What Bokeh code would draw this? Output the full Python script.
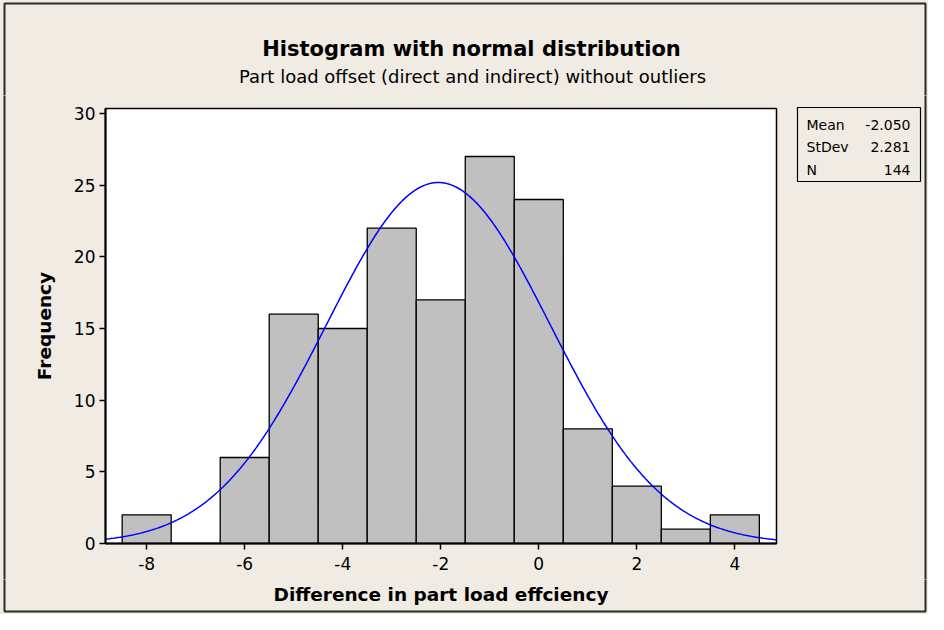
import numpy as np
from bokeh.plotting import figure
from bokeh.layouts import column, row
from bokeh.models import Label, BoxAnnotation, Range1d, FixedTicker
from bokeh.embed import file_html
from bokeh.resources import INLINE

# ---- data ----
bin_centers = [-8, -7, -6, -5, -4, -3, -2, -1, 0, 1, 2, 3, 4]
counts = [2, 0, 6, 16, 15, 22, 17, 27, 24, 8, 4, 1, 2]
bin_width = 1.0
mean = -2.050
stdev = 2.281
n_obs = 144
x_ticks = [-8, -6, -4, -2, 0, 2, 4]
y_ticks = [0, 5, 10, 15, 20, 25, 30]
title_text = "Histogram with normal distribution"
subtitle_text = "Part load offset (direct and indirect) without outliers"
x_label = "Difference in part load effciency"
y_label = "Frequency"
stat_names = ["Mean", "StDev", "N"]
stat_values = ["-2.050", "2.281", "144"]

FONT = "DejaVu Sans"
BG = "#F0ECE3"
EDGE = "#2a2a2a"

# page geometry (px) -- whole layout fits 928x614
PW, PH = 928, 614
TOP_H = 95             # title strip height
LEFT_W = 6             # left strip width
MAIN_W = 790 - LEFT_W
FL, FR, FT, FB = 105, 776, 108, 543   # plot frame
MID_BOTTOM = 579                      # bottom of main figure
MID_H = MID_BOTTOM - TOP_H
BOT_H = PH - MID_BOTTOM
BL, BR, BT, BB = 4, PW - 3, 3, PH - 3  # outer border

X0, X1 = -8.84, 4.85
Y0, Y1 = 0.0, 30.35


def no_align(f):
    try:
        f.frame_align = False
    except Exception:
        pass


def deco_fig(w, h, x0, x1, y0, y1):
    f = figure(width=w, height=h, x_range=Range1d(x0, x1), y_range=Range1d(y1, y0),
               x_axis_type=None, y_axis_type=None, output_backend="svg",
               toolbar_location=None, min_border=0)
    f.background_fill_color = BG
    f.border_fill_color = BG
    f.outline_line_color = None
    f.xgrid.visible = False
    f.ygrid.visible = False
    no_align(f)
    return f


def frame_box(**kw):
    return BoxAnnotation(fill_color=None, fill_alpha=0, line_color=EDGE, line_alpha=1.0,
                         line_width=2, **kw)


# ---- title strip ----
top = deco_fig(PW, TOP_H, 0, PW, 0, TOP_H)
top.add_layout(frame_box(left=BL, right=BR, top=BT, bottom=TOP_H + 50))
top.add_layout(Label(x=471, y=48, text=title_text, text_font=FONT,
                     text_font_size="21px", text_font_style="bold", text_align="center",
                     text_baseline="middle", text_color="black"))
top.add_layout(Label(x=472, y=76, text=subtitle_text, text_font=FONT,
                     text_font_size="18px", text_align="center",
                     text_baseline="middle", text_color="black"))

# ---- left strip ----
lstrip = deco_fig(LEFT_W, MID_H, 0, LEFT_W, TOP_H, MID_BOTTOM)
lstrip.add_layout(frame_box(left=BL, right=BL + 50, top=TOP_H - 50, bottom=MID_BOTTOM + 50))

# ---- main histogram ----
p = figure(width=MAIN_W, height=MID_H, x_range=Range1d(X0, X1), y_range=Range1d(Y0, Y1),
           output_backend="svg", toolbar_location=None,
           min_border_left=FL - LEFT_W, min_border_right=LEFT_W + MAIN_W - FR,
           min_border_top=FT - TOP_H, min_border_bottom=MID_BOTTOM - FB)
no_align(p)
p.frame_width = FR - FL
p.frame_height = FB - FT
p.background_fill_color = "white"
p.border_fill_color = BG
p.outline_line_color = "black"
p.outline_line_width = 1.5
p.xgrid.visible = False
p.ygrid.visible = False

for ax in (p.xaxis[0], p.yaxis[0]):
    ax.axis_line_color = "black"
    ax.axis_line_width = 2
    ax.major_tick_line_color = "black"
    ax.major_tick_line_width = 1.5
    ax.major_tick_out = 6
    ax.major_tick_in = 0
    ax.minor_tick_line_color = None
    ax.major_label_text_font = FONT
    ax.major_label_text_font_size = "17px"
    ax.major_label_text_color = "black"
    ax.axis_label_text_font = FONT
    ax.axis_label_text_font_size = "18.5px"
    ax.axis_label_text_font_style = "bold"
    ax.axis_label_text_color = "black"

p.xaxis.ticker = FixedTicker(ticks=x_ticks)
p.yaxis.ticker = FixedTicker(ticks=y_ticks)
p.xaxis.major_label_overrides = {t: str(t) for t in x_ticks}
p.yaxis.major_label_overrides = {t: str(t) for t in y_ticks}
p.yaxis.axis_label = y_label
p.xaxis.major_label_standoff = 7
p.yaxis.major_label_standoff = 4
p.yaxis.axis_label_standoff = 16

left = [c - bin_width / 2 for c in bin_centers]
right = [c + bin_width / 2 for c in bin_centers]
p.quad(left=left, right=right, bottom=0, top=counts,
       fill_color="#C0C0C0", line_color="black", line_width=1.3)

xs = np.linspace(X0, X1, 500)
ys = n_obs * bin_width * np.exp(-0.5 * ((xs - mean) / stdev) ** 2) / (stdev * np.sqrt(2 * np.pi))
p.line(xs, ys, line_color="#0000FF", line_width=1.5)

# ---- stats box (right strip) ----
SX0 = LEFT_W + MAIN_W
stats = deco_fig(PW - SX0, MID_H, SX0, PW, TOP_H, MID_BOTTOM)
stats.add_layout(frame_box(left=SX0 - 50, right=BR, top=TOP_H - 50, bottom=MID_BOTTOM + 50))
stats.add_layout(BoxAnnotation(left=797, right=920, top=107, bottom=181,
                               fill_color=None, fill_alpha=0, line_color="black",
                               line_alpha=1.0, line_width=1.2))
for i, (nm, vl) in enumerate(zip(stat_names, stat_values)):
    yy = 124 + i * 22.5
    stats.add_layout(Label(x=806, y=yy, text=nm, text_font=FONT, text_font_size="14px",
                           text_align="left", text_baseline="middle", text_color="black"))
    stats.add_layout(Label(x=910, y=yy, text=vl, text_font=FONT, text_font_size="14px",
                           text_align="right", text_baseline="middle", text_color="black"))

# ---- bottom strip with x-axis title ----
bottom = deco_fig(PW, BOT_H, 0, PW, MID_BOTTOM, PH)
bottom.add_layout(frame_box(left=BL, right=BR, top=MID_BOTTOM - 50, bottom=BB))
bottom.add_layout(Label(x=(FL + FR) / 2, y=594, text=x_label, text_font=FONT,
                        text_font_size="18.5px", text_font_style="bold", text_align="center",
                        text_baseline="middle", text_color="black"))

layout = column(top, row(lstrip, p, stats, spacing=0), bottom, spacing=0,
                styles={"background-color": BG})

open("out.html", "w").write(file_html(layout, INLINE))
